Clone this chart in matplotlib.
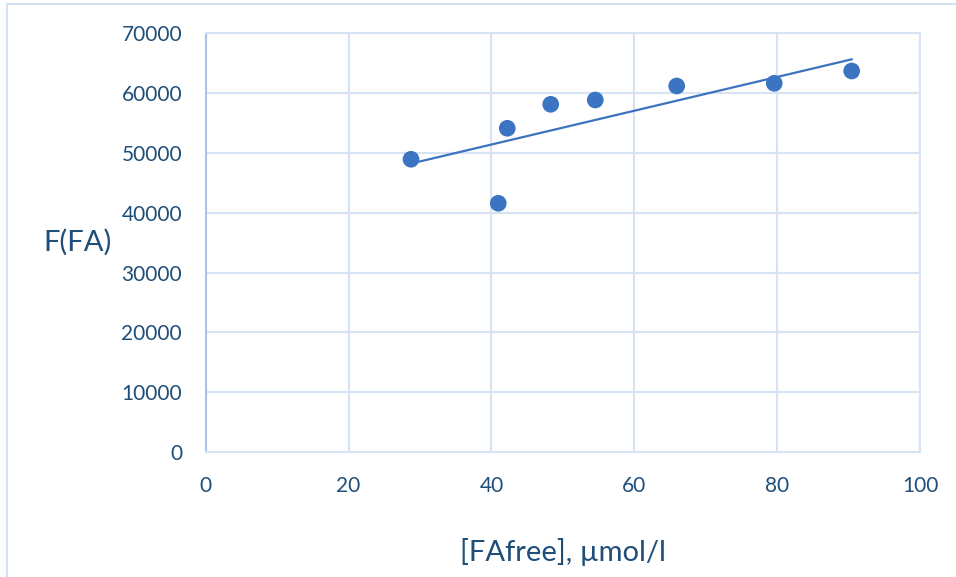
import matplotlib
matplotlib.use('Agg')
import matplotlib.pyplot as plt
import matplotlib.patheffects as pe
import numpy as np
from matplotlib import rcParams

rcParams['font.family'] = ['Lato', 'DejaVu Sans']

# data
fa_free = [28.74, 40.96, 42.22, 48.30, 54.54, 65.94, 79.60, 90.44]
f_fa = [48940, 41580, 54120, 58130, 58850, 61190, 61640, 63700]
x_ticks = [0, 20, 40, 60, 80, 100]
y_ticks = [0, 10000, 20000, 30000, 40000, 50000, 60000, 70000]

text_col = '#1F4E79'
dot_col = '#3A74C2'
grid_col = '#D6E3F3'

fig = plt.figure(figsize=(9.56, 5.77), dpi=100)

# outer frame of the chart area (only left and top visible)
frame = matplotlib.patches.Rectangle((7 / 956., -0.1), 1.2, (577 - 4) / 577. + 0.1,
                                     transform=fig.transFigure, fill=False,
                                     edgecolor='#D3E1F3', linewidth=1.5)
fig.patches.append(frame)

ax = fig.add_axes([0.2152, 0.2166, 0.7471, 0.7257])

# linear trendline
k, b = np.polyfit(fa_free, f_fa, 1)
xs = np.array([min(fa_free), max(fa_free)])
ax.plot(xs, k * xs + b, color='#3C72BE', linewidth=1.6, zorder=3)

ax.plot(fa_free, f_fa, 'o', color=dot_col, markersize=12, markeredgewidth=0,
        zorder=4,
        path_effects=[pe.SimpleLineShadow(offset=(1.2, -1.8), shadow_color='#555555', alpha=0.35),
                      pe.Normal()])

ax.set_xlim(0, 100)
ax.set_ylim(0, 70000)
ax.set_xticks(x_ticks)
ax.set_yticks(y_ticks)
ax.tick_params(length=0, labelsize=15, labelcolor=text_col)
ax.tick_params(axis='x', pad=17)
ax.tick_params(axis='y', pad=17)

ax.grid(True, color=grid_col, linewidth=1.5)
ax.set_axisbelow(True)
for s in ['top', 'right', 'bottom']:
    ax.spines[s].set_color(grid_col)
    ax.spines[s].set_linewidth(1.5)
ax.spines['left'].set_color('#A9C3E8')
ax.spines['left'].set_linewidth(1.5)

ax.set_xlabel('[FAfree], \u00b5mol/l', fontsize=21, color=text_col, va='center')
ax.set_ylabel('F(FA)', fontsize=21, color=text_col, rotation=0, va='center', ha='center')
ax.xaxis.set_label_coords(0.5, -0.238)
ax.yaxis.set_label_coords(-0.18, 0.5)

plt.savefig('out.png', dpi=100)
